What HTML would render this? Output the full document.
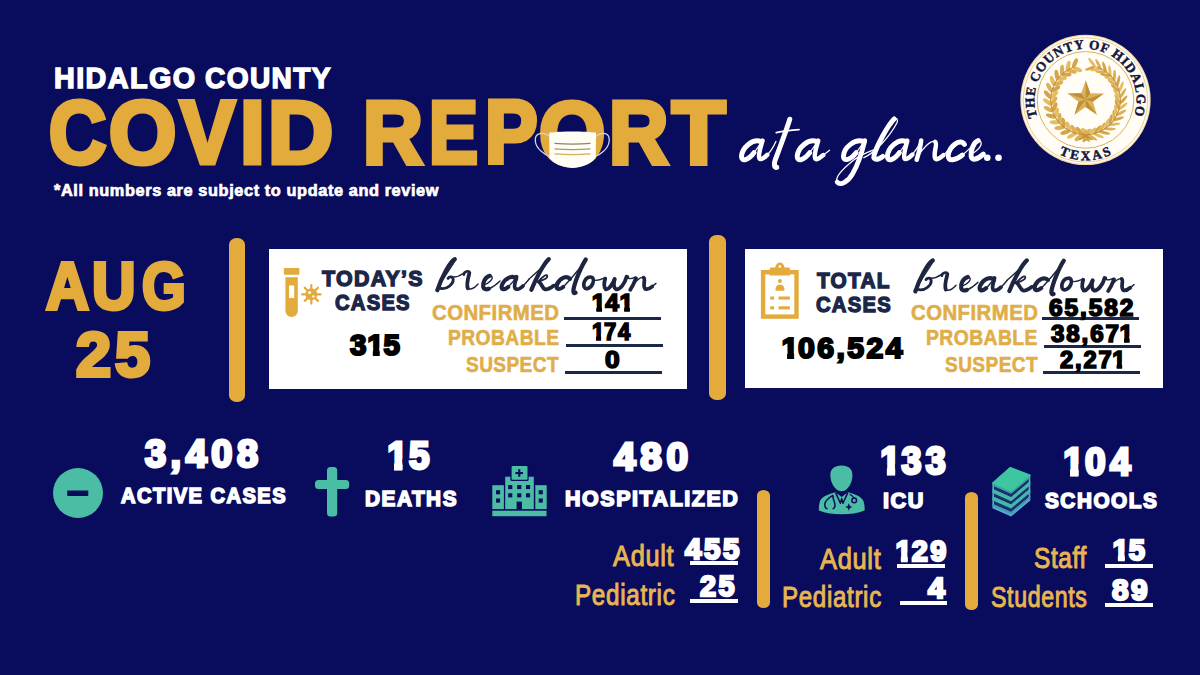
<!DOCTYPE html>
<html><head><meta charset="utf-8"><title>Hidalgo County COVID Report</title>
<style>
html,body{margin:0;padding:0}
body{width:1200px;height:675px;overflow:hidden;background:#090b5c;position:relative;font-family:"Liberation Sans",sans-serif}
.r{position:absolute}
.t{position:absolute;white-space:nowrap;line-height:1;transform-origin:0 0;font-weight:bold;paint-order:stroke fill}
svg{position:absolute;left:0;top:0}
.one{display:inline-block;margin:0 -0.085em 0 -0.05em;clip-path:polygon(-1em -1em,2em -1em,2em calc(.6em - var(--h)),calc(.3706em + var(--h) + .3px) calc(.6em - var(--h)),calc(.3706em + var(--h) + .3px) 2em,calc(.2334em - var(--h) - .3px) 2em,calc(.2334em - var(--h) - .3px) calc(.6em - var(--h)),-1em calc(.6em - var(--h)))}
</style></head><body>
<div class="r" style="left:228.8px;top:237.6px;width:16.7px;height:164.6px;background:#e3ab3c;border-radius:7.5px / 6.5px"></div>
<div class="r" style="left:709.1px;top:235.3px;width:16.6px;height:164.7px;background:#e3ab3c;border-radius:7.5px / 6.5px"></div>
<div class="r" style="left:756.5px;top:489.5px;width:13.5px;height:118px;background:#e3ab3c;border-radius:6.5px / 5.5px"></div>
<div class="r" style="left:964.5px;top:492px;width:13px;height:118px;background:#e3ab3c;border-radius:6.5px / 5.5px"></div>
<div class="r" style="left:268.9px;top:249px;width:418px;height:139.6px;background:#ffffff"></div>
<div class="r" style="left:744.9px;top:248.5px;width:418.1px;height:139.7px;background:#ffffff"></div>
<div class="r" style="left:563.7px;top:316.6px;width:97.3px;height:3.2px;background:#1b2748"></div>
<div class="r" style="left:566px;top:343.7px;width:97.3px;height:3.1px;background:#1b2748"></div>
<div class="r" style="left:565px;top:370.8px;width:97px;height:3px;background:#1b2748"></div>
<div class="r" style="left:1041.5px;top:317.2px;width:97.3px;height:3px;background:#1b2748"></div>
<div class="r" style="left:1044px;top:344.7px;width:96.8px;height:2.9px;background:#1b2748"></div>
<div class="r" style="left:1043px;top:371.3px;width:96.8px;height:3.2px;background:#1b2748"></div>
<div class="r" style="left:690px;top:561.3px;width:47.7px;height:4px;background:#ffffff"></div>
<div class="r" style="left:690px;top:599px;width:47.7px;height:4px;background:#ffffff"></div>
<div class="r" style="left:897.3px;top:564px;width:47.7px;height:4.3px;background:#ffffff"></div>
<div class="r" style="left:899.7px;top:600.7px;width:47.6px;height:4.3px;background:#ffffff"></div>
<div class="r" style="left:1105.3px;top:564px;width:47.7px;height:4.3px;background:#ffffff"></div>
<div class="r" style="left:1105.3px;top:603px;width:47.7px;height:4.3px;background:#ffffff"></div>
<div class="t" id="hc1" style="left:54.05px;top:63.30px;font-size:30.20px;color:#ffffff;transform:scaleX(0.9523);-webkit-text-stroke:1.5px #ffffff;letter-spacing:1.5px">HIDALGO</div>
<div class="t" id="hc2" style="left:204.93px;top:63.30px;font-size:30.20px;color:#ffffff;transform:scaleX(0.9303);-webkit-text-stroke:1.5px #ffffff;letter-spacing:1.5px">COUNTY</div>
<div class="t" id="cv_C" style="left:48.70px;top:89.00px;font-size:88.63px;color:#e3ab3c;transform:scaleX(0.8936);-webkit-text-stroke:5px #e3ab3c">C</div>
<div class="t" id="cv_O" style="left:109.10px;top:88.99px;font-size:88.63px;color:#e3ab3c;transform:scaleX(0.9756);-webkit-text-stroke:5px #e3ab3c">O</div>
<div class="t" id="cv_V" style="left:179.95px;top:89.28px;font-size:88.63px;color:#e3ab3c;transform:scaleX(0.9300);-webkit-text-stroke:5px #e3ab3c">V</div>
<div class="t" id="cv_I" style="left:239.85px;top:89.28px;font-size:88.63px;color:#e3ab3c;transform:scaleX(1.0080);-webkit-text-stroke:5px #e3ab3c">I</div>
<div class="t" id="cv_D" style="left:267.79px;top:89.28px;font-size:88.63px;color:#e3ab3c;transform:scaleX(1.0175);-webkit-text-stroke:5px #e3ab3c">D</div>
<div class="t" id="rep_R" style="left:362.86px;top:89.28px;font-size:88.63px;color:#e3ab3c;transform:scaleX(0.9348);-webkit-text-stroke:5px #e3ab3c">R</div>
<div class="t" id="rep_E" style="left:429.49px;top:89.28px;font-size:88.63px;color:#e3ab3c;transform:scaleX(0.8276);-webkit-text-stroke:5px #e3ab3c">E</div>
<div class="t" id="rep_P" style="left:484.78px;top:89.28px;font-size:88.63px;color:#e3ab3c;transform:scaleX(0.8884);-webkit-text-stroke:5px #e3ab3c">P</div>
<div class="t" id="rep_O" style="left:539.11px;top:89.82px;font-size:88.63px;color:#e3ab3c;transform:scaleX(0.9607);-webkit-text-stroke:5px #e3ab3c">O</div>
<div class="t" id="rep_R2" style="left:608.89px;top:89.28px;font-size:88.63px;color:#e3ab3c;transform:scaleX(0.9269);-webkit-text-stroke:5px #e3ab3c">R</div>
<div class="t" id="rep_T" style="left:671.93px;top:89.28px;font-size:88.63px;color:#e3ab3c;transform:scaleX(0.9860);-webkit-text-stroke:5px #e3ab3c">T</div>
<div class="t" id="note" style="left:54.24px;top:182.16px;font-size:16.21px;color:#ffffff;transform:scaleX(1.0071);-webkit-text-stroke:0.7px #ffffff;letter-spacing:0.6px">*All numbers are subject to update and review</div>
<div class="t" id="aug_A" style="left:45.86px;top:252.58px;font-size:66.64px;color:#e3ab3c;transform:scaleX(0.8902);-webkit-text-stroke:4px #e3ab3c">A</div>
<div class="t" id="aug_U" style="left:91.78px;top:253.23px;font-size:66.64px;color:#e3ab3c;transform:scaleX(0.9041);-webkit-text-stroke:4px #e3ab3c">U</div>
<div class="t" id="aug_G" style="left:141.60px;top:252.77px;font-size:66.64px;color:#e3ab3c;transform:scaleX(0.8432);-webkit-text-stroke:4px #e3ab3c">G</div>
<div class="t" id="d25" style="left:76.30px;top:323.23px;font-size:63.33px;color:#e3ab3c;transform:scaleX(0.9955);-webkit-text-stroke:4px #e3ab3c;letter-spacing:4px">25</div>
<div class="t" id="todays" style="left:321.94px;top:268.23px;font-size:22.58px;color:#1b2748;transform:scaleX(0.9468);-webkit-text-stroke:1.4px #1b2748;letter-spacing:1.4px">TODAY’S</div>
<div class="t" id="cases1" style="left:334.99px;top:291.52px;font-size:22.58px;color:#1b2748;transform:scaleX(0.8941);-webkit-text-stroke:1.4px #1b2748;letter-spacing:1.4px">CASES</div>
<div class="t" id="n315" style="left:349.83px;top:330.42px;font-size:30.17px;color:#000;transform:scaleX(0.9803);-webkit-text-stroke:2.2px #000;letter-spacing:2.4px">3<span class="one" style="--h:1.1px">1</span>5</div>
<div class="t" id="conf1" style="left:431.99px;top:301.57px;font-size:22.03px;color:#e0ad48;transform:scaleX(0.9245);-webkit-text-stroke:0.6px #e0ad48;letter-spacing:0.5px">CONFIRMED</div>
<div class="t" id="prob1" style="left:447.95px;top:327.32px;font-size:22.03px;color:#e0ad48;transform:scaleX(0.8742);-webkit-text-stroke:0.6px #e0ad48;letter-spacing:0.5px">PROBABLE</div>
<div class="t" id="susp1" style="left:465.94px;top:353.55px;font-size:22.03px;color:#e0ad48;transform:scaleX(0.8654);-webkit-text-stroke:0.6px #e0ad48;letter-spacing:0.5px">SUSPECT</div>
<div class="t" id="n141" style="left:593.00px;top:291.87px;font-size:23.19px;color:#000;transform:scaleX(1.0593);-webkit-text-stroke:1.6px #000;letter-spacing:1.8px"><span class="one" style="--h:0.8px">1</span>4<span class="one" style="--h:0.8px">1</span></div>
<div class="t" id="n174" style="left:592.72px;top:320.85px;font-size:23.19px;color:#000;transform:scaleX(0.9495);-webkit-text-stroke:1.6px #000;letter-spacing:1.8px"><span class="one" style="--h:0.8px">1</span>74</div>
<div class="t" id="n0" style="left:605.00px;top:349.46px;font-size:23.19px;color:#000;transform:scaleX(1.1338);-webkit-text-stroke:1.6px #000">0</div>
<div class="t" id="total" style="left:816.87px;top:270.29px;font-size:22.58px;color:#1b2748;transform:scaleX(0.9207);-webkit-text-stroke:1.4px #1b2748;letter-spacing:1.4px">TOTAL</div>
<div class="t" id="cases2" style="left:816.02px;top:294.32px;font-size:22.58px;color:#1b2748;transform:scaleX(0.8957);-webkit-text-stroke:1.4px #1b2748;letter-spacing:1.4px">CASES</div>
<div class="t" id="n106" style="left:782.86px;top:333.24px;font-size:30.17px;color:#000;transform:scaleX(1.0006);-webkit-text-stroke:2.2px #000;letter-spacing:2.4px"><span class="one" style="--h:1.1px">1</span>06,524</div>
<div class="t" id="conf2" style="left:910.94px;top:302.17px;font-size:22.03px;color:#e0ad48;transform:scaleX(0.9243);-webkit-text-stroke:0.6px #e0ad48;letter-spacing:0.5px">CONFIRMED</div>
<div class="t" id="prob2" style="left:925.88px;top:327.47px;font-size:22.03px;color:#e0ad48;transform:scaleX(0.8772);-webkit-text-stroke:0.6px #e0ad48;letter-spacing:0.5px">PROBABLE</div>
<div class="t" id="susp2" style="left:944.86px;top:354.21px;font-size:22.03px;color:#e0ad48;transform:scaleX(0.8664);-webkit-text-stroke:0.6px #e0ad48;letter-spacing:0.5px">SUSPECT</div>
<div class="t" id="n65" style="left:1048.87px;top:296.55px;font-size:23.47px;color:#000;transform:scaleX(1.0431);-webkit-text-stroke:1.6px #000;letter-spacing:1.8px">65,582</div>
<div class="t" id="n38" style="left:1051.09px;top:322.58px;font-size:23.47px;color:#000;transform:scaleX(1.0293);-webkit-text-stroke:1.6px #000;letter-spacing:1.8px">38,67<span class="one" style="--h:0.8px">1</span></div>
<div class="t" id="n2" style="left:1059.97px;top:348.91px;font-size:23.47px;color:#000;transform:scaleX(1.0101);-webkit-text-stroke:1.6px #000;letter-spacing:1.8px">2,27<span class="one" style="--h:0.8px">1</span></div>
<div class="t" id="n3408" style="left:144.69px;top:435.27px;font-size:38.46px;color:#ffffff;transform:scaleX(0.9860);-webkit-text-stroke:3px #ffffff;letter-spacing:4.6px">3,408</div>
<div class="t" id="active" style="left:120.94px;top:485.38px;font-size:21.99px;color:#ffffff;transform:scaleX(0.9143);-webkit-text-stroke:1.6px #ffffff;letter-spacing:1.6px">ACTIVE CASES</div>
<div class="t" id="n15" style="left:388.77px;top:437.38px;font-size:38.46px;color:#ffffff;transform:scaleX(0.9560);-webkit-text-stroke:3px #ffffff;letter-spacing:4.6px"><span class="one" style="--h:1.5px">1</span>5</div>
<div class="t" id="deaths" style="left:365.40px;top:488.31px;font-size:21.99px;color:#ffffff;transform:scaleX(0.9457);-webkit-text-stroke:1.6px #ffffff;letter-spacing:1.6px">DEATHS</div>
<div class="t" id="n480" style="left:614.22px;top:437.93px;font-size:38.46px;color:#ffffff;transform:scaleX(1.0087);-webkit-text-stroke:3px #ffffff;letter-spacing:4.6px">480</div>
<div class="t" id="hosp" style="left:565.03px;top:488.25px;font-size:21.99px;color:#ffffff;transform:scaleX(0.9754);-webkit-text-stroke:1.6px #ffffff;letter-spacing:1.6px">HOSPITALIZED</div>
<div class="t" id="n133" style="left:882.42px;top:442.46px;font-size:38.46px;color:#ffffff;transform:scaleX(0.9322);-webkit-text-stroke:3px #ffffff;letter-spacing:4.6px"><span class="one" style="--h:1.5px">1</span>33</div>
<div class="t" id="icu" style="left:883.01px;top:490.20px;font-size:21.99px;color:#ffffff;transform:scaleX(0.9863);-webkit-text-stroke:1.6px #ffffff;letter-spacing:1.6px">ICU</div>
<div class="t" id="n104" style="left:1064.58px;top:442.54px;font-size:38.46px;color:#ffffff;transform:scaleX(0.9626);-webkit-text-stroke:3px #ffffff;letter-spacing:4.6px"><span class="one" style="--h:1.5px">1</span>04</div>
<div class="t" id="schools" style="left:1044.99px;top:490.45px;font-size:21.99px;color:#ffffff;transform:scaleX(0.9453);-webkit-text-stroke:1.6px #ffffff;letter-spacing:1.6px">SCHOOLS</div>
<div class="t" id="adult1" style="left:613.12px;top:542.46px;font-size:28.93px;color:#e8b552;transform:scaleX(0.8778);font-weight:normal;-webkit-text-stroke:1px #e8b552;letter-spacing:0.8px">Adult</div>
<div class="t" id="ped1" style="left:575.28px;top:581.01px;font-size:28.93px;color:#e8b552;transform:scaleX(0.8391);font-weight:normal;-webkit-text-stroke:1px #e8b552;letter-spacing:0.8px">Pediatric</div>
<div class="t" id="n455" style="left:684.92px;top:533.60px;font-size:30.09px;color:#ffffff;transform:scaleX(0.9805);-webkit-text-stroke:2.4px #ffffff;letter-spacing:2.6px">455</div>
<div class="t" id="n25" style="left:699.77px;top:571.03px;font-size:30.09px;color:#ffffff;transform:scaleX(0.9564);-webkit-text-stroke:2.4px #ffffff;letter-spacing:2.6px">25</div>
<div class="t" id="adult2" style="left:820.04px;top:544.77px;font-size:28.93px;color:#e8b552;transform:scaleX(0.8794);font-weight:normal;-webkit-text-stroke:1px #e8b552;letter-spacing:0.8px">Adult</div>
<div class="t" id="ped2" style="left:782.16px;top:583.01px;font-size:28.93px;color:#e8b552;transform:scaleX(0.8341);font-weight:normal;-webkit-text-stroke:1px #e8b552;letter-spacing:0.8px">Pediatric</div>
<div class="t" id="n129" style="left:896.74px;top:535.64px;font-size:30.09px;color:#ffffff;transform:scaleX(0.9605);-webkit-text-stroke:2.4px #ffffff;letter-spacing:2.6px"><span class="one" style="--h:1.2px">1</span>29</div>
<div class="t" id="n4" style="left:927.96px;top:572.51px;font-size:30.09px;color:#ffffff;transform:scaleX(1.0109);-webkit-text-stroke:2.4px #ffffff">4</div>
<div class="t" id="staff" style="left:1034.34px;top:544.40px;font-size:28.93px;color:#e8b552;transform:scaleX(0.8421);font-weight:normal;-webkit-text-stroke:1px #e8b552;letter-spacing:0.8px">Staff</div>
<div class="t" id="students" style="left:991.11px;top:582.52px;font-size:28.93px;color:#e8b552;transform:scaleX(0.8005);font-weight:normal;-webkit-text-stroke:1px #e8b552;letter-spacing:0.8px">Students</div>
<div class="t" id="n15b" style="left:1113.68px;top:534.91px;font-size:30.09px;color:#ffffff;transform:scaleX(0.9698);-webkit-text-stroke:2.4px #ffffff;letter-spacing:2.6px"><span class="one" style="--h:1.2px">1</span>5</div>
<div class="t" id="n89" style="left:1111.76px;top:575.44px;font-size:30.09px;color:#ffffff;transform:scaleX(0.9889);-webkit-text-stroke:2.4px #ffffff;letter-spacing:2.6px">89</div>
<svg width="1200" height="675" viewBox="0 0 1200 675">
<!-- test tube + virus -->
<g fill="#e3ab3c">
<rect x="283.8" y="267.9" width="15.6" height="6.8" rx="0.8"/>
<path d="M285.4 277.2 H297.8 V310.9 A6.2 6.2 0 0 1 285.4 310.9 Z"/>
<rect x="289" y="285.5" width="5.2" height="12.4" fill="#ffffff"/>
<circle cx="311.3" cy="294.3" r="6"/>
<g stroke="#e3ab3c" stroke-width="2.2" stroke-linecap="round">
<line x1="311.3" y1="285" x2="311.3" y2="303.6"/>
<line x1="302" y1="294.3" x2="320.6" y2="294.3"/>
<line x1="304.7" y1="287.7" x2="317.9" y2="300.9"/>
<line x1="317.9" y1="287.7" x2="304.7" y2="300.9"/>
</g>
<circle cx="309.6" cy="292.4" r="1.5" fill="#ffffff"/>
<circle cx="313.4" cy="296.4" r="1.2" fill="#ffffff"/>
</g>
<!-- clipboard -->
<g fill="#e3ab3c">
<rect x="763.1" y="272.2" width="33.4" height="44.4" fill="none" stroke="#e3ab3c" stroke-width="4.4"/>
<path d="M769.7 275.4 V269 Q769.7 267.6 771.4 267.6 H775.2 Q776.4 262.6 779.9 262.6 Q783.4 262.6 784.6 267.6 H788.4 Q790 267.6 790 269 V275.4 Z"/>
<circle cx="779.9" cy="266.6" r="1.3" fill="#ffffff"/>
<circle cx="779.9" cy="281" r="2"/>
<path d="M775.4 290.8 Q775.4 284.6 779.9 284.6 Q784.6 284.6 784.6 290.8 Z"/>
<rect x="770.2" y="296.5" width="3.8" height="3.1"/>
<rect x="778.5" y="296.5" width="11.4" height="3.1"/>
<rect x="770.2" y="306.3" width="3.8" height="3.1"/>
<rect x="778.5" y="306.3" width="11.4" height="3.1"/>
</g>
<!-- minus circle -->
<circle cx="78" cy="493" r="25" fill="#4bbda4"/>
<rect x="67.2" y="490.6" width="21.1" height="5.4" rx="0.8" fill="#090b5c"/>
<!-- cross -->
<g fill="#4bbda4">
<rect x="327" y="467" width="10.2" height="49.4" rx="3.5"/>
<rect x="315" y="480" width="34.2" height="8.9" rx="3.5"/>
</g>
<!-- hospital -->
<g fill="#4bbda4">
<rect x="492.3" y="510.7" width="54.2" height="5.5"/>
<rect x="492.3" y="485.2" width="11.6" height="23.9"/>
<rect x="535.3" y="485.2" width="11.4" height="23.9"/>
<rect x="505.2" y="476.7" width="28.6" height="32.4"/>
<rect x="510.4" y="465.1" width="18.2" height="15.8" rx="1.5" fill="#090b5c"/>
<rect x="511.6" y="466.1" width="15.9" height="13.6" rx="1"/>
</g>
<g fill="#090b5c">
<rect x="518.2" y="469.2" width="2.1" height="7.6"/>
<rect x="515.4" y="472" width="7.6" height="2.1"/>
<rect x="508.2" y="485" width="4.1" height="4.1"/><rect x="517.2" y="485" width="4.1" height="4.1"/><rect x="526" y="485" width="4.1" height="4.1"/>
<rect x="508.2" y="493.3" width="4.1" height="4.1"/><rect x="517.2" y="493.3" width="4.1" height="4.1"/><rect x="526" y="493.3" width="4.1" height="4.1"/>
<rect x="516.6" y="501.6" width="5.3" height="7.6"/>
<rect x="496" y="490.2" width="4.1" height="4.1"/><rect x="496" y="498.5" width="4.1" height="4.1"/>
<rect x="538.7" y="490.2" width="4.1" height="4.1"/><rect x="538.7" y="498.5" width="4.1" height="4.1"/>
</g>
<!-- doctor -->
<g fill="#4bbda4">
<path d="M841.5 465.4 C848.5 465.4 852.6 469 852.4 475 C852.6 481 849.5 488 845 490.5 C843 491.6 840 491.6 838 490.5 C833.5 488 830.2 481 830.4 475 C830.2 469 834.5 465.4 841.5 465.4 Z"/>
<path d="M835.5 492.3 L841.7 497 L847.9 492.3 C856 494.5 862.5 497 863.8 502 C864.6 505 864.8 508 864.6 510.5 C858 513.4 850 514.2 841.7 514.2 C833.4 514.2 825.4 513.4 818.9 510.5 C818.7 508 818.9 505 819.7 502 C821 497 827.5 494.5 835.5 492.3 Z"/>
</g>
<g fill="none" stroke="#090b5c" stroke-width="1.5" stroke-linejoin="round">
<path d="M835.6 492.6 L840.4 503.2 L841.7 498.6 L843 503.2 L847.8 492.6"/>
<path d="M833.2 495.2 C828.5 498 825 500.5 824.8 504.2 C824.7 507.2 826 508.6 827.6 508.8 M832.6 508.8 C834.4 508.6 835.4 506.6 834.8 503.6 C834.2 500.6 832.4 498 833.2 495.2" stroke-width="1.5"/>
<circle cx="854.2" cy="500.4" r="2.3" stroke-width="1.5"/>
<path d="M849.8 494.2 C852 495.6 853.6 497 854.2 498.2" stroke-width="1.3"/>
</g>
<path d="M848.8 503.2 L849.9 506.1 L852.4 507 L849.9 507.9 L848.8 510.8 L847.7 507.9 L845.2 507 L847.7 506.1 Z" fill="#090b5c"/>
<!-- books -->
<g>
<path d="M992.4 482.4 L1011.1 490.7 L1030.3 474.6 L1030.3 500.5 L1011.1 516.6 L992.4 508.3 Z" fill="#58a9d0"/>
<path d="M992.4 482.9 L1011.1 491.2 L1030.3 475.1 L1030.3 477.7 L1011.1 493.8 L992.4 485.5 Z" fill="#3aa79a"/>
<path d="M994.0 486.2 L1011.1 493.8 L1028.7 479.0 L1028.7 482.4 L1011.1 497.2 L994.0 489.6 Z" fill="#16326e"/>
<path d="M992.4 488.9 L1011.1 497.2 L1030.3 481.1 L1030.3 485.1 L1011.1 501.2 L992.4 492.9 Z" fill="#45b9a7"/>
<path d="M994.0 493.6 L1011.1 501.2 L1028.7 486.4 L1028.7 489.8 L1011.1 504.6 L994.0 497.0 Z" fill="#16326e"/>
<path d="M992.4 496.3 L1011.1 504.6 L1030.3 488.5 L1030.3 492.5 L1011.1 508.6 L992.4 500.3 Z" fill="#45b9a7"/>
<path d="M994.0 501.0 L1011.1 508.6 L1028.7 493.8 L1028.7 497.2 L1011.1 512.0 L994.0 504.4 Z" fill="#16326e"/>
<path d="M992.4 503.7 L1011.1 512.0 L1030.3 495.9 L1030.3 498.3 L1011.1 514.4 L992.4 506.1 Z" fill="#3f9fb0"/>
<path d="M992.4 482.9 L1010.1 467.3 L1030.3 475.1 L1011.1 491.2 Z" fill="#3ec6a1" stroke="#3ec6a1" stroke-width="1" stroke-linejoin="round"/>
</g>
</svg>
<svg width="1200" height="675" viewBox="0 0 1200 675">
<g>
<path d="M550 136.5 C543 131 534.5 133 535.3 141 C536 149 545 155 551.5 157.5" fill="none" stroke="#cfd3f2" stroke-width="1.3"/>
<path d="M595.5 136.5 C602.5 131 610 133 609.2 141 C608.5 149 600 155 593.5 157.5" fill="none" stroke="#cfd3f2" stroke-width="1.3"/>
<path d="M549.3 132.6 C560 131 585 131 596 132.6 L595.8 158 C590 165 580 167.9 572.6 167.9 C565 167.9 555 165 549.4 158 Z" fill="#fffdf4"/>
<path d="M554.5 143.3 Q572.6 144.9 590.5 143.3" fill="none" stroke="#8a8470" stroke-width="1.3"/>
<path d="M554.5 148.8 Q572.6 150.4 590.5 148.8" fill="none" stroke="#a59a6e" stroke-width="1.3"/>
<path d="M554.5 153.9 Q572.6 155.5 590.5 153.9" fill="none" stroke="#c9b266" stroke-width="1.3"/>
</g>
<g>
<circle cx="1085.5" cy="99.9" r="65.2" fill="#f3d9a0"/>
<circle cx="1085.5" cy="99.9" r="64" fill="#fffdf6"/>
<circle cx="1085.5" cy="99.9" r="62.3" fill="none" stroke="#e3c27a" stroke-width="0.8"/>
<circle cx="1085.5" cy="99.9" r="48.3" fill="none" stroke="#d9b260" stroke-width="1"/>
<ellipse cx="1086.2" cy="138.0" rx="5.2" ry="2.1" transform="rotate(130.0 1086.2 138.0)" fill="#d4a446"/>
<ellipse cx="1085.5" cy="131.7" rx="5.2" ry="2.1" transform="rotate(218.0 1085.5 131.7)" fill="#e4bd62"/>
<ellipse cx="1078.9" cy="137.5" rx="5.2" ry="2.1" transform="rotate(141.0 1078.9 137.5)" fill="#dcb055"/>
<ellipse cx="1079.4" cy="131.1" rx="5.2" ry="2.1" transform="rotate(229.0 1079.4 131.1)" fill="#d4a446"/>
<ellipse cx="1071.8" cy="135.5" rx="5.2" ry="2.1" transform="rotate(152.0 1071.8 135.5)" fill="#e4bd62"/>
<ellipse cx="1073.6" cy="129.4" rx="5.2" ry="2.1" transform="rotate(240.0 1073.6 129.4)" fill="#dcb055"/>
<ellipse cx="1065.3" cy="132.3" rx="5.2" ry="2.1" transform="rotate(163.0 1065.3 132.3)" fill="#d4a446"/>
<ellipse cx="1068.2" cy="126.6" rx="5.2" ry="2.1" transform="rotate(251.0 1068.2 126.6)" fill="#e4bd62"/>
<ellipse cx="1059.5" cy="127.8" rx="5.2" ry="2.1" transform="rotate(174.0 1059.5 127.8)" fill="#dcb055"/>
<ellipse cx="1063.4" cy="122.8" rx="5.2" ry="2.1" transform="rotate(262.0 1063.4 122.8)" fill="#d4a446"/>
<ellipse cx="1054.7" cy="122.3" rx="5.2" ry="2.1" transform="rotate(185.0 1054.7 122.3)" fill="#e4bd62"/>
<ellipse cx="1059.5" cy="118.1" rx="5.2" ry="2.1" transform="rotate(273.0 1059.5 118.1)" fill="#dcb055"/>
<ellipse cx="1050.9" cy="116.0" rx="5.2" ry="2.1" transform="rotate(196.0 1050.9 116.0)" fill="#d4a446"/>
<ellipse cx="1056.5" cy="112.8" rx="5.2" ry="2.1" transform="rotate(284.0 1056.5 112.8)" fill="#e4bd62"/>
<ellipse cx="1048.5" cy="109.1" rx="5.2" ry="2.1" transform="rotate(207.0 1048.5 109.1)" fill="#dcb055"/>
<ellipse cx="1054.5" cy="107.1" rx="5.2" ry="2.1" transform="rotate(295.0 1054.5 107.1)" fill="#d4a446"/>
<ellipse cx="1047.4" cy="101.9" rx="5.2" ry="2.1" transform="rotate(218.0 1047.4 101.9)" fill="#e4bd62"/>
<ellipse cx="1053.7" cy="101.0" rx="5.2" ry="2.1" transform="rotate(306.0 1053.7 101.0)" fill="#dcb055"/>
<ellipse cx="1047.7" cy="94.6" rx="5.2" ry="2.1" transform="rotate(229.0 1047.7 94.6)" fill="#d4a446"/>
<ellipse cx="1054.1" cy="94.9" rx="5.2" ry="2.1" transform="rotate(317.0 1054.1 94.9)" fill="#e4bd62"/>
<ellipse cx="1049.4" cy="87.5" rx="5.2" ry="2.1" transform="rotate(240.0 1049.4 87.5)" fill="#dcb055"/>
<ellipse cx="1055.6" cy="89.0" rx="5.2" ry="2.1" transform="rotate(328.0 1055.6 89.0)" fill="#d4a446"/>
<ellipse cx="1052.5" cy="80.8" rx="5.2" ry="2.1" transform="rotate(251.0 1052.5 80.8)" fill="#e4bd62"/>
<ellipse cx="1058.3" cy="83.5" rx="5.2" ry="2.1" transform="rotate(339.0 1058.3 83.5)" fill="#dcb055"/>
<ellipse cx="1056.7" cy="74.9" rx="5.2" ry="2.1" transform="rotate(262.0 1056.7 74.9)" fill="#d4a446"/>
<ellipse cx="1061.9" cy="78.6" rx="5.2" ry="2.1" transform="rotate(350.0 1061.9 78.6)" fill="#e4bd62"/>
<ellipse cx="1062.0" cy="69.9" rx="5.2" ry="2.1" transform="rotate(273.0 1062.0 69.9)" fill="#dcb055"/>
<ellipse cx="1066.4" cy="74.5" rx="5.2" ry="2.1" transform="rotate(361.0 1066.4 74.5)" fill="#d4a446"/>
<ellipse cx="1068.2" cy="65.9" rx="5.2" ry="2.1" transform="rotate(284.0 1068.2 65.9)" fill="#e4bd62"/>
<ellipse cx="1071.6" cy="71.3" rx="5.2" ry="2.1" transform="rotate(372.0 1071.6 71.3)" fill="#dcb055"/>
<ellipse cx="1075.0" cy="63.2" rx="5.2" ry="2.1" transform="rotate(295.0 1075.0 63.2)" fill="#d4a446"/>
<ellipse cx="1077.3" cy="69.2" rx="5.2" ry="2.1" transform="rotate(383.0 1077.3 69.2)" fill="#e4bd62"/>
<ellipse cx="1086.0" cy="132.1" rx="6.0" ry="1.5" transform="rotate(-30.0 1086.0 132.1)" fill="#dcb055"/>
<ellipse cx="1085.4" cy="137.7" rx="6.0" ry="1.5" transform="rotate(42.0 1085.4 137.7)" fill="#d4a446"/>
<ellipse cx="1091.6" cy="131.5" rx="6.0" ry="1.5" transform="rotate(-40.0 1091.6 131.5)" fill="#e4bd62"/>
<ellipse cx="1092.0" cy="137.2" rx="6.0" ry="1.5" transform="rotate(32.0 1092.0 137.2)" fill="#dcb055"/>
<ellipse cx="1097.0" cy="130.0" rx="6.0" ry="1.5" transform="rotate(-50.0 1097.0 130.0)" fill="#d4a446"/>
<ellipse cx="1098.4" cy="135.5" rx="6.0" ry="1.5" transform="rotate(22.0 1098.4 135.5)" fill="#e4bd62"/>
<ellipse cx="1102.1" cy="127.5" rx="6.0" ry="1.5" transform="rotate(-60.0 1102.1 127.5)" fill="#dcb055"/>
<ellipse cx="1104.3" cy="132.7" rx="6.0" ry="1.5" transform="rotate(12.0 1104.3 132.7)" fill="#d4a446"/>
<ellipse cx="1106.6" cy="124.2" rx="6.0" ry="1.5" transform="rotate(-70.0 1106.6 124.2)" fill="#e4bd62"/>
<ellipse cx="1109.8" cy="128.9" rx="6.0" ry="1.5" transform="rotate(2.0 1109.8 128.9)" fill="#dcb055"/>
<ellipse cx="1110.5" cy="120.2" rx="6.0" ry="1.5" transform="rotate(-80.0 1110.5 120.2)" fill="#d4a446"/>
<ellipse cx="1114.4" cy="124.3" rx="6.0" ry="1.5" transform="rotate(-8.0 1114.4 124.3)" fill="#e4bd62"/>
<ellipse cx="1113.7" cy="115.6" rx="6.0" ry="1.5" transform="rotate(-90.0 1113.7 115.6)" fill="#dcb055"/>
<ellipse cx="1118.2" cy="118.9" rx="6.0" ry="1.5" transform="rotate(-18.0 1118.2 118.9)" fill="#d4a446"/>
<ellipse cx="1115.9" cy="110.4" rx="6.0" ry="1.5" transform="rotate(-100.0 1115.9 110.4)" fill="#e4bd62"/>
<ellipse cx="1121.0" cy="112.9" rx="6.0" ry="1.5" transform="rotate(-28.0 1121.0 112.9)" fill="#dcb055"/>
<ellipse cx="1117.3" cy="105.0" rx="6.0" ry="1.5" transform="rotate(-110.0 1117.3 105.0)" fill="#d4a446"/>
<ellipse cx="1122.7" cy="106.5" rx="6.0" ry="1.5" transform="rotate(-38.0 1122.7 106.5)" fill="#e4bd62"/>
<ellipse cx="1117.7" cy="99.4" rx="6.0" ry="1.5" transform="rotate(-120.0 1117.7 99.4)" fill="#dcb055"/>
<ellipse cx="1123.3" cy="100.0" rx="6.0" ry="1.5" transform="rotate(-48.0 1123.3 100.0)" fill="#d4a446"/>
<ellipse cx="1117.1" cy="93.8" rx="6.0" ry="1.5" transform="rotate(-130.0 1117.1 93.8)" fill="#e4bd62"/>
<ellipse cx="1122.8" cy="93.4" rx="6.0" ry="1.5" transform="rotate(-58.0 1122.8 93.4)" fill="#dcb055"/>
<ellipse cx="1115.6" cy="88.4" rx="6.0" ry="1.5" transform="rotate(-140.0 1115.6 88.4)" fill="#d4a446"/>
<ellipse cx="1121.1" cy="87.0" rx="6.0" ry="1.5" transform="rotate(-68.0 1121.1 87.0)" fill="#e4bd62"/>
<ellipse cx="1113.1" cy="83.3" rx="6.0" ry="1.5" transform="rotate(-150.0 1113.1 83.3)" fill="#dcb055"/>
<ellipse cx="1118.3" cy="81.1" rx="6.0" ry="1.5" transform="rotate(-78.0 1118.3 81.1)" fill="#d4a446"/>
<ellipse cx="1109.8" cy="78.8" rx="6.0" ry="1.5" transform="rotate(-160.0 1109.8 78.8)" fill="#e4bd62"/>
<ellipse cx="1114.5" cy="75.6" rx="6.0" ry="1.5" transform="rotate(-88.0 1114.5 75.6)" fill="#dcb055"/>
<ellipse cx="1105.8" cy="74.9" rx="6.0" ry="1.5" transform="rotate(-170.0 1105.8 74.9)" fill="#d4a446"/>
<ellipse cx="1109.9" cy="71.0" rx="6.0" ry="1.5" transform="rotate(-98.0 1109.9 71.0)" fill="#e4bd62"/>
<ellipse cx="1101.2" cy="71.7" rx="6.0" ry="1.5" transform="rotate(-180.0 1101.2 71.7)" fill="#dcb055"/>
<ellipse cx="1104.5" cy="67.2" rx="6.0" ry="1.5" transform="rotate(-108.0 1104.5 67.2)" fill="#d4a446"/>
<ellipse cx="1096.0" cy="69.5" rx="6.0" ry="1.5" transform="rotate(-190.0 1096.0 69.5)" fill="#e4bd62"/>
<ellipse cx="1098.5" cy="64.4" rx="6.0" ry="1.5" transform="rotate(-118.0 1098.5 64.4)" fill="#dcb055"/>
<ellipse cx="1090.6" cy="68.1" rx="6.0" ry="1.5" transform="rotate(-200.0 1090.6 68.1)" fill="#d4a446"/>
<ellipse cx="1092.1" cy="62.7" rx="6.0" ry="1.5" transform="rotate(-128.0 1092.1 62.7)" fill="#e4bd62"/>
<path d="M1089.1 134.5 A34.8 34.8 0 0 1 1074.7 66.8" fill="none" stroke="#c4923a" stroke-width="1.1"/>
<path d="M1081.9 134.5 A34.8 34.8 0 0 0 1096.3 66.8" fill="none" stroke="#c4923a" stroke-width="1.1"/>
<path d="M1088.5 133.9 l-9 5.5 M1082.5 133.9 l9 5.5" stroke="#c4923a" stroke-width="1.8" stroke-linecap="round" fill="none"/>
<polygon points="1085.7,80.4 1090.2,93.3 1103.8,93.5 1092.9,101.7 1096.9,114.8 1085.7,107.0 1074.5,114.8 1078.5,101.7 1067.6,93.5 1081.2,93.3" fill="#dcb25a"/>
<polygon points="1085.7,99.4 1085.7,80.4 1090.2,93.3" fill="#bf8f36"/>
<polygon points="1085.7,99.4 1103.8,93.5 1092.9,101.7" fill="#bf8f36"/>
<polygon points="1085.7,99.4 1096.9,114.8 1085.7,107.0" fill="#bf8f36"/>
<polygon points="1085.7,99.4 1074.5,114.8 1078.5,101.7" fill="#bf8f36"/>
<polygon points="1085.7,99.4 1067.6,93.5 1081.2,93.3" fill="#bf8f36"/>
<path id="sealTop" d="M1037.43 116.92 A51 51 0 1 1 1134.14 115.24" fill="none"/>
<text font-family="'Liberation Serif', serif" font-weight="bold" font-size="13.3" fill="#14163c" stroke="#14163c" stroke-width="0.45"><textPath href="#sealTop" textLength="192.7" lengthAdjust="spacing">THE COUNTY OF HIDALGO</textPath></text>
<path id="sealBot" d="M1059.02 154.19 A60.4 60.4 0 0 0 1111.98 154.19" fill="none"/>
<text font-family="'Liberation Serif', serif" font-weight="bold" font-size="13.3" fill="#14163c" stroke="#14163c" stroke-width="0.45"><textPath href="#sealBot" textLength="54.3" lengthAdjust="spacing">TEXAS</textPath></text>
</g>
</svg>
<svg width="1200" height="675" viewBox="0 0 1200 675">
<g transform="translate(735 110) scale(0.11854)" fill="none" stroke="#ffffff" stroke-linecap="round" stroke-linejoin="round">
<path d="M 222 268 C 150 235, 58 320, 55 392 C 53 440, 110 425, 160 360" stroke-width="42"/>
<path d="M 160 360 C 190 320, 215 285, 232 255" stroke-width="11"/>
<path d="M 232 258 C 218 310, 192 380, 206 408 C 216 426, 250 400, 272 378" stroke-width="38"/>
<path d="M 272 378 C 300 350, 325 310, 345 265" stroke-width="11"/>
<path d="M 462 78 C 440 150, 385 300, 338 425 C 324 465, 335 486, 352 484" stroke-width="42"/>
<path d="M 348 190 C 410 177, 480 170, 540 166" stroke-width="15"/>
<path d="M 692 268 C 620 235, 528 320, 525 392 C 523 440, 580 425, 630 360" stroke-width="42"/>
<path d="M 630 360 C 660 320, 685 285, 702 255" stroke-width="11"/>
<path d="M 702 258 C 688 310, 662 380, 676 408 C 686 426, 720 400, 745 380" stroke-width="38"/>
<path d="M 745 380 C 770 362, 788 348, 798 340" stroke-width="11"/>
<path d="M 1088 268 C 1012 235, 918 320, 915 388 C 913 438, 972 423, 1022 360" stroke-width="42"/>
<path d="M 1022 360 C 1052 320, 1078 285, 1095 255" stroke-width="11"/>
<path d="M 1095 258 C 1078 330, 1042 450, 992 538 C 955 605, 890 640, 862 608" stroke-width="40"/>
<path d="M 862 608 C 838 570, 905 500, 1002 422 C 1060 378, 1125 352, 1182 332" stroke-width="11"/>
</g>
<g transform="translate(865 110) scale(0.11854)" fill="none" stroke="#ffffff" stroke-linecap="round" stroke-linejoin="round">
<path d="M -10 402 C 80 362, 205 232, 270 108 C 282 78, 264 62, 246 76" stroke-width="11"/>
<path d="M 246 76 C 196 125, 98 300, 76 385 C 66 425, 106 425, 150 392" stroke-width="42"/>
<path d="M 347 268 C 282 235, 192 320, 189 392 C 187 440, 242 425, 290 360" stroke-width="42"/>
<path d="M 290 360 C 320 320, 342 285, 357 255" stroke-width="11"/>
<path d="M 357 258 C 344 310, 320 380, 333 408 C 343 426, 375 400, 400 376" stroke-width="38"/>
<path d="M 400 376 C 430 340, 458 295, 474 258" stroke-width="11"/>
<path d="M 474 258 C 468 310, 450 375, 436 420" stroke-width="38"/>
<path d="M 442 400 C 480 322, 558 252, 592 268" stroke-width="11"/>
<path d="M 592 268 C 616 284, 572 368, 592 408 C 602 426, 640 400, 662 380" stroke-width="38"/>
<path d="M 662 380 C 680 364, 690 352, 700 340" stroke-width="11"/>
<path d="M 838 290 C 808 238, 712 300, 702 382 C 697 438, 762 428, 822 380" stroke-width="42"/>
<path d="M 822 380 C 850 357, 870 337, 888 320" stroke-width="11"/>
<path d="M 895 372 C 945 350, 992 300, 977 268 C 965 245, 930 262, 912 300" stroke-width="11"/>
<path d="M 955 258 C 915 275, 890 340, 895 388 C 900 432, 950 418, 998 372" stroke-width="42"/>
</g>
<circle cx="987.3" cy="157.7" r="3.3" fill="#fff"/><circle cx="998.5" cy="157.7" r="3.3" fill="#fff"/>
<g transform="translate(430 250) scale(0.10000)" fill="none" stroke="#1d2540" stroke-linecap="round" stroke-linejoin="round">
<path d="M 62 400 C 120 300, 212 172, 256 98" stroke-width="14"/>
<path d="M 248 92 C 200 115, 112 280, 74 402" stroke-width="42"/>
<path d="M 110 385 C 170 395, 235 340, 232 297 C 230 264, 196 262, 180 284" stroke-width="28"/>
<path d="M 205 268 C 250 276, 300 258, 335 232" stroke-width="14"/>
<path d="M 338 246 C 340 214, 388 200, 400 228" stroke-width="26"/>
<path d="M 392 238 C 378 290, 362 345, 378 383" stroke-width="38"/>
<path d="M 378 386 C 410 400, 450 375, 480 340" stroke-width="14"/>
<path d="M 532 352 C 590 336, 640 286, 616 263 C 596 246, 556 270, 540 312" stroke-width="14"/>
<path d="M 598 258 C 550 272, 524 330, 532 368 C 537 393, 560 398, 588 388" stroke-width="42"/>
<path d="M 588 388 C 630 372, 670 340, 700 310" stroke-width="14"/>
<path d="M 860 290 C 835 250, 762 270, 724 340 C 698 398, 740 406, 782 370" stroke-width="42"/>
<path d="M 782 370 C 820 330, 850 292, 866 265" stroke-width="14"/>
<path d="M 866 268 C 852 320, 834 365, 852 386 C 870 400, 905 384, 930 360" stroke-width="38"/>
<path d="M 930 360 C 955 336, 975 312, 992 290" stroke-width="14"/>
<path d="M 992 290 C 1060 230, 1150 152, 1194 98" stroke-width="14"/>
<path d="M 1188 92 C 1140 132, 1052 300, 1014 398" stroke-width="42"/>
</g>
<g transform="translate(540 250) scale(0.10000)" fill="none" stroke="#1d2540" stroke-linecap="round" stroke-linejoin="round">
<path d="M -25 318 C 20 308, 84 282, 72 256 C 62 240, 20 272, -12 312" stroke-width="18"/>
<path d="M -12 318 C 20 340, 20 380, 50 393 C 78 398, 110 378, 135 358" stroke-width="38"/>
<path d="M 135 358 C 150 345, 160 335, 172 322" stroke-width="14"/>
<path d="M 300 288 C 270 252, 202 276, 172 340 C 152 395, 192 403, 232 370" stroke-width="42"/>
<path d="M 232 370 C 290 310, 400 180, 462 100" stroke-width="14"/>
<path d="M 458 95 C 420 152, 352 300, 334 398 C 329 428, 342 436, 356 428" stroke-width="42"/>
<path d="M 500 270 C 456 272, 427 330, 442 370 C 457 403, 510 384, 530 330 C 544 288, 526 267, 500 270" stroke-width="36"/>
<path d="M 532 300 C 562 310, 602 300, 642 282" stroke-width="14"/>
<path d="M 652 286 C 642 320, 637 370, 657 393 C 682 403, 722 350, 746 292" stroke-width="38"/>
<path d="M 746 292 C 737 330, 737 380, 762 393 C 802 398, 850 330, 866 268" stroke-width="38"/>
<path d="M 866 268 C 876 252, 892 262, 882 282 C 902 292, 932 282, 952 272" stroke-width="14"/>
<path d="M 960 282 C 946 320, 922 370, 902 398" stroke-width="38"/>
<path d="M 916 370 C 950 312, 1010 262, 1036 277" stroke-width="14"/>
<path d="M 1036 277 C 1060 292, 1022 360, 1052 388 C 1072 398, 1100 384, 1122 366" stroke-width="38"/>
<path d="M 1122 366 C 1136 354, 1148 344, 1160 334" stroke-width="14"/>
</g>
<g transform="translate(908 251.2) scale(0.10000)" fill="none" stroke="#1d2540" stroke-linecap="round" stroke-linejoin="round">
<path d="M 62 400 C 120 300, 212 172, 256 98" stroke-width="14"/>
<path d="M 248 92 C 200 115, 112 280, 74 402" stroke-width="42"/>
<path d="M 110 385 C 170 395, 235 340, 232 297 C 230 264, 196 262, 180 284" stroke-width="28"/>
<path d="M 205 268 C 250 276, 300 258, 335 232" stroke-width="14"/>
<path d="M 338 246 C 340 214, 388 200, 400 228" stroke-width="26"/>
<path d="M 392 238 C 378 290, 362 345, 378 383" stroke-width="38"/>
<path d="M 378 386 C 410 400, 450 375, 480 340" stroke-width="14"/>
<path d="M 532 352 C 590 336, 640 286, 616 263 C 596 246, 556 270, 540 312" stroke-width="14"/>
<path d="M 598 258 C 550 272, 524 330, 532 368 C 537 393, 560 398, 588 388" stroke-width="42"/>
<path d="M 588 388 C 630 372, 670 340, 700 310" stroke-width="14"/>
<path d="M 860 290 C 835 250, 762 270, 724 340 C 698 398, 740 406, 782 370" stroke-width="42"/>
<path d="M 782 370 C 820 330, 850 292, 866 265" stroke-width="14"/>
<path d="M 866 268 C 852 320, 834 365, 852 386 C 870 400, 905 384, 930 360" stroke-width="38"/>
<path d="M 930 360 C 955 336, 975 312, 992 290" stroke-width="14"/>
<path d="M 992 290 C 1060 230, 1150 152, 1194 98" stroke-width="14"/>
<path d="M 1188 92 C 1140 132, 1052 300, 1014 398" stroke-width="42"/>
</g>
<g transform="translate(1018 251.2) scale(0.10000)" fill="none" stroke="#1d2540" stroke-linecap="round" stroke-linejoin="round">
<path d="M -25 318 C 20 308, 84 282, 72 256 C 62 240, 20 272, -12 312" stroke-width="18"/>
<path d="M -12 318 C 20 340, 20 380, 50 393 C 78 398, 110 378, 135 358" stroke-width="38"/>
<path d="M 135 358 C 150 345, 160 335, 172 322" stroke-width="14"/>
<path d="M 300 288 C 270 252, 202 276, 172 340 C 152 395, 192 403, 232 370" stroke-width="42"/>
<path d="M 232 370 C 290 310, 400 180, 462 100" stroke-width="14"/>
<path d="M 458 95 C 420 152, 352 300, 334 398 C 329 428, 342 436, 356 428" stroke-width="42"/>
<path d="M 500 270 C 456 272, 427 330, 442 370 C 457 403, 510 384, 530 330 C 544 288, 526 267, 500 270" stroke-width="36"/>
<path d="M 532 300 C 562 310, 602 300, 642 282" stroke-width="14"/>
<path d="M 652 286 C 642 320, 637 370, 657 393 C 682 403, 722 350, 746 292" stroke-width="38"/>
<path d="M 746 292 C 737 330, 737 380, 762 393 C 802 398, 850 330, 866 268" stroke-width="38"/>
<path d="M 866 268 C 876 252, 892 262, 882 282 C 902 292, 932 282, 952 272" stroke-width="14"/>
<path d="M 960 282 C 946 320, 922 370, 902 398" stroke-width="38"/>
<path d="M 916 370 C 950 312, 1010 262, 1036 277" stroke-width="14"/>
<path d="M 1036 277 C 1060 292, 1022 360, 1052 388 C 1072 398, 1100 384, 1122 366" stroke-width="38"/>
<path d="M 1122 366 C 1136 354, 1148 344, 1160 334" stroke-width="14"/>
</g>
</svg>
</body></html>
